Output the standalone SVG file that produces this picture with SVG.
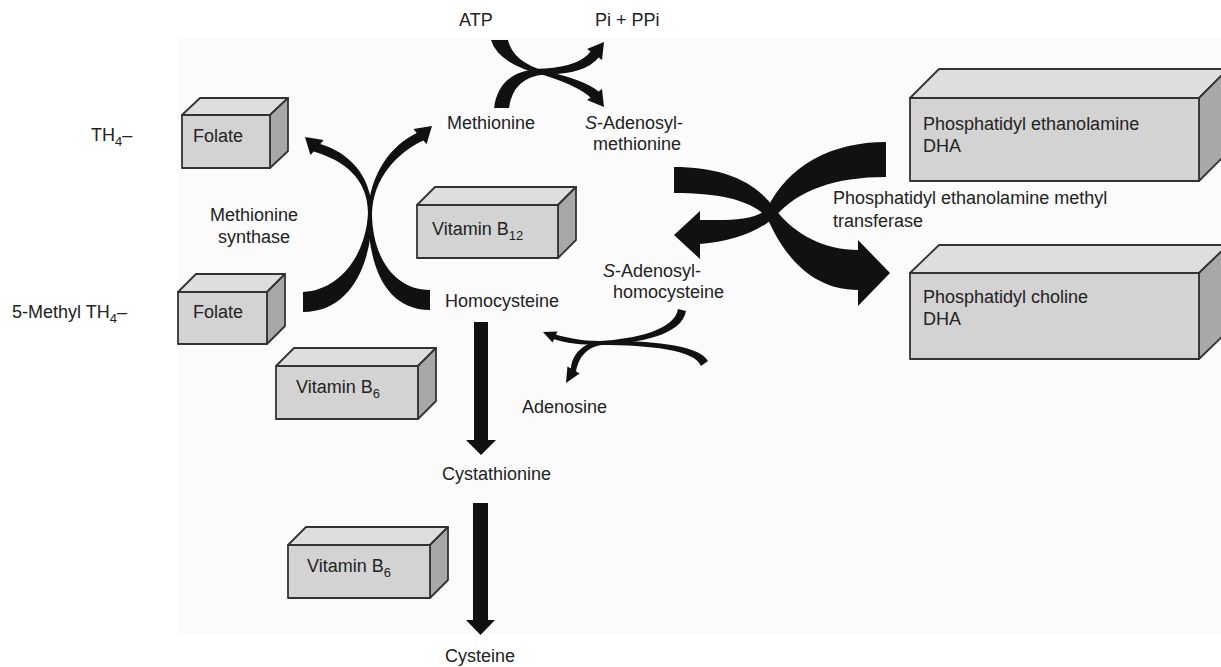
<svg xmlns="http://www.w3.org/2000/svg" width="1221" height="667" viewBox="0 0 1221 667">
<style>
text{font-family:"Liberation Sans",Arial,sans-serif;font-size:18px;fill:#222}
.sub{font-size:13px}
.front{fill:#d3d3d3;stroke:#333;stroke-width:1.8;stroke-linejoin:round}
.top{fill:#dedede;stroke:#333;stroke-width:1.8;stroke-linejoin:round}
.side{fill:#a8a8a8;stroke:#333;stroke-width:1.8;stroke-linejoin:round}
.arr{fill:#111;stroke:none}
</style>
<rect x="178" y="38" width="1043" height="596" fill="#fbfbfb"/>

<g id="connectors">
  <!-- ATP -> SAM -->
  <path class="arr" d="M491,40 L508,40 Q513,62 545,71 Q585,80 598.5,91.5 L602,89 L604,107 L587,100 L590.5,97.5 Q578,86 545,75.5 Q498,64 491,40 Z"/>
  <!-- Methionine -> Pi+PPi -->
  <path class="arr" d="M494,108 Q499,69 545,68.5 Q580,66 590.5,51.5 L587,49 L604,42 L602,60 L598.5,57.5 Q586,74 545,74.5 Q513,77 509,108 Z"/>
  <!-- 5-Methyl folate -> Methionine -->
  <path class="arr" d="M303,292 C340,290 366,255 368,213 C370,172 392,145 416.7,132.9 L413.4,129.1 L432,126 L426.6,144.1 L423.3,140.4 C398,152 373,178 372,213 C372,265 350,312 303,312 Z"/>
  <!-- Homocysteine -> Folate -->
  <path class="arr" d="M430,290 C393,290 372,255 372,213 C372,175 348,152 320.3,143.9 L323.6,140.1 L305,137 L310.4,155.1 L313.7,151.4 C343,160 368,178 368,213 C368,265 385,310 430,310 Z"/>
  <!-- PE -> SAH -->
  <path class="arr" d="M886,142 C832,142 788,165 767,209 C752,222 725,220 700,220 L700,211 L674,235 L700,259 L700,244 C730,242 758,232 775,217 C798,190 835,177 886,177 Z"/>
  <!-- SAM -> PC -->
  <path class="arr" d="M674,167 C720,167 755,180 775,209 C795,235 825,250 858,250 L858,240 L890,273 L858,306 L858,290 C815,290 785,260 767,217 C750,200 720,193 674,193 Z"/>
  <!-- SAH -> Adenosine -->
  <path class="arr" d="M678,309 L686,311 C682,335 640,343 602,345 C585,347 578,360 576.1,371.5 L579.6,373.5 L566,383 L567.4,366.5 L570.9,368.5 C572,355 582,343 600,341 C635,339 675,330 678,309 Z"/>
  <!-- SAH -> Homocysteine -->
  <path class="arr" d="M708,361 C700,345 650,340 600,341 C580,341 566,337 556,334.7 L557.5,331.5 L543,332 L552.5,342.5 L554,339.3 C566,343 580,345 600,345 C650,345 695,350 701,366 Z"/>
  <!-- Homocysteine -> Cystathionine -->
  <path class="arr" d="M474,322 L488,322 L488,440 L496,440 L481,455 L466,440 L474,440 Z"/>
  <!-- Cystathionine -> Cysteine -->
  <path class="arr" d="M473,503 L488,503 L488,620 L495,620 L480.5,635 L466,620 L473,620 Z"/>
</g>

<g id="folate-top">
  <polygon class="top" points="182,115 200,98 288,98 270,115"/>
  <polygon class="side" points="270,115 288,98 288,151 270,168"/>
  <rect class="front" x="182" y="115" width="88" height="53"/>
  <text x="193" y="142">Folate</text>
</g>
<g id="folate-bottom">
  <polygon class="top" points="178,292 196,274 285,274 267,292"/>
  <polygon class="side" points="267,292 285,274 285,326 267,344"/>
  <rect class="front" x="178" y="292" width="89" height="52"/>
  <text x="193" y="318">Folate</text>
</g>
<g id="vitamin-b12">
  <polygon class="top" points="417,205 435,187 576,187 558,205"/>
  <polygon class="side" points="558,205 576,187 576,240 558,258"/>
  <rect class="front" x="417" y="205" width="141" height="53"/>
  <text x="432" y="235">Vitamin B<tspan class="sub" dy="5">12</tspan></text>
</g>
<g id="vitamin-b6-1">
  <polygon class="top" points="276,366 294,348 436,348 418,366"/>
  <polygon class="side" points="418,366 436,348 436,401 418,419"/>
  <rect class="front" x="276" y="366" width="142" height="53"/>
  <text x="296" y="393">Vitamin B<tspan class="sub" dy="5">6</tspan></text>
</g>
<g id="vitamin-b6-2">
  <polygon class="top" points="288,545 306,527 448,527 430,545"/>
  <polygon class="side" points="430,545 448,527 448,580 430,598"/>
  <rect class="front" x="288" y="545" width="142" height="53"/>
  <text x="307" y="572">Vitamin B<tspan class="sub" dy="5">6</tspan></text>
</g>
<g id="pe">
  <polygon class="top" points="910,98 939,69 1228,69 1199,98"/>
  <polygon class="side" points="1199,98 1228,69 1228,152 1199,181"/>
  <rect class="front" x="910" y="98" width="289" height="83"/>
  <text x="923" y="130">Phosphatidyl ethanolamine</text>
  <text x="923" y="152">DHA</text>
</g>
<g id="pc">
  <polygon class="top" points="910,273 939,245 1228,245 1199,273"/>
  <polygon class="side" points="1199,273 1228,245 1228,331 1199,359"/>
  <rect class="front" x="910" y="273" width="289" height="86"/>
  <text x="923" y="303">Phosphatidyl choline</text>
  <text x="923" y="325">DHA</text>
</g>

<g id="atp"><text x="459" y="26">ATP</text></g>
<g id="pi-ppi"><text x="595" y="26">Pi + PPi</text></g>
<g id="methionine"><text x="447" y="129">Methionine</text></g>
<g id="sam"><text x="585" y="129"><tspan font-style="italic">S</tspan>-Adenosyl-</text><text x="593" y="150">methionine</text></g>
<g id="th4"><text x="91" y="141">TH<tspan class="sub" dy="5">4</tspan><tspan dy="-5">–</tspan></text></g>
<g id="methyl-th4"><text x="12" y="318">5-Methyl TH<tspan class="sub" dy="5">4</tspan><tspan dy="-5">–</tspan></text></g>
<g id="met-synthase"><text x="210" y="221">Methionine</text><text x="218" y="243">synthase</text></g>
<g id="homocysteine"><text x="445" y="307">Homocysteine</text></g>
<g id="sah"><text x="603" y="277"><tspan font-style="italic">S</tspan>-Adenosyl-</text><text x="613" y="298">homocysteine</text></g>
<g id="adenosine"><text x="522" y="413">Adenosine</text></g>
<g id="cystathionine"><text x="442" y="480">Cystathionine</text></g>
<g id="cysteine"><text x="445" y="662">Cysteine</text></g>
<g id="pemt"><text x="833" y="204">Phosphatidyl ethanolamine methyl</text><text x="833" y="227">transferase</text></g>
</svg>
